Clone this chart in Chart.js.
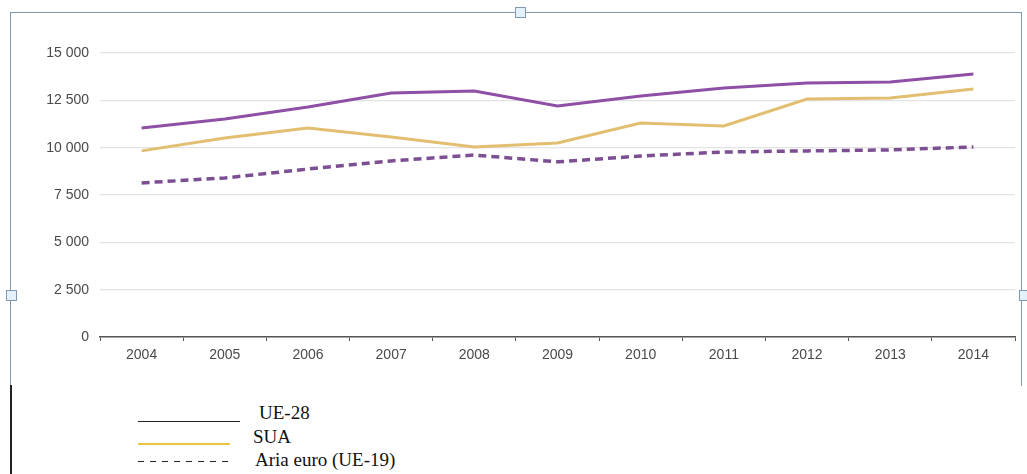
<!DOCTYPE html>
<html>
<head>
<meta charset="utf-8">
<script src="https://cdn.jsdelivr.net/npm/chart.js@4"></script>
<style>
  body { margin: 0; background: #fff; width: 1027px; height: 474px; overflow: hidden; position: relative; }
  #frame { position: absolute; left: 10px; top: 12px; width: 1010px; height: 373px;
           border: 1px solid #7f9ab0; border-bottom: none; }
  #frameLow { position: absolute; left: 10px; top: 385px; width: 2px; height: 89px; background: #222; }
  .handle { position: absolute; width: 9px; height: 9px; border: 1px solid #7f9ab0; background: #e4f1fa; }
  #wrap { position: absolute; left: 0; top: 0; }
  .lg-line { position: absolute; height: 1px; }
  .lg-text { position: absolute; font-family: "Liberation Serif", "Times New Roman", serif;
             font-size: 19px; color: #111; line-height: 20px; }
</style>
</head>
<body>
<div id="frame"></div>
<div id="frameLow"></div>
<div class="handle" style="left:515px;top:7px;"></div>
<div class="handle" style="left:6px;top:290px;"></div>
<div class="handle" style="left:1019px;top:290px;"></div>
<div id="wrap"><canvas id="grafico" width="1027" height="390"></canvas></div>

<!-- leyenda -->
<div class="lg-line" style="left:138px;top:421px;width:102px;background:#222;"></div>
<div class="lg-text" style="left:259px;top:403px;">UE-28</div>
<div class="lg-line" style="left:138px;top:443px;width:92px;height:2px;background:#edc53a;"></div>
<div class="lg-text" style="left:253px;top:427px;">SUA</div>
<div class="lg-line" style="left:138px;top:461px;width:96px;background:repeating-linear-gradient(90deg,#222 0 6px,transparent 6px 12px);"></div>
<div class="lg-text" style="left:255px;top:450px;">Aria euro (UE-19)</div>

<script>
// Datos
const anios = ['2004', '2005', '2006', '2007', '2008', '2009', '2010', '2011', '2012', '2013', '2014'];
const ue28 = [11040, 11520, 12150, 12890, 12990, 12200, 12730, 13150, 13420, 13470, 13890];
const sua = [9830, 10510, 11040, 10560, 10040, 10250, 11300, 11150, 12570, 12620, 13100];
const ariaEuro = [8140, 8400, 8870, 9300, 9610, 9250, 9560, 9770, 9830, 9880, 10040];
const ticksY = [0, 2500, 5000, 7500, 10000, 12500, 15000];

const fuenteEje = { family: '"Liberation Sans Narrow", "Liberation Sans", Arial, sans-serif', size: 14 };

function formatoMiles(v) {
    return String(v).replace(/\B(?=(\d{3})+(?!\d))/g, ' ');
}

new Chart(document.getElementById('grafico'), {
    type: 'line',
    data: {
        labels: anios,
        datasets: [
            { label: 'UE-28', data: ue28, borderColor: '#8e4fa6', borderWidth: 3, pointRadius: 0, tension: 0 },
            { label: 'SUA', data: sua, borderColor: '#e2bf70', borderWidth: 3, pointRadius: 0, tension: 0 },
            { label: 'Aria euro (UE-19)', data: ariaEuro, borderColor: '#7c4f93', borderWidth: 3.5,
              borderDash: [8, 5], pointRadius: 0, tension: 0 }
        ]
    },
    options: {
        responsive: false,
        animation: false,
        layout: { padding: { top: 53, right: 12, left: 0, bottom: 0 } },
        plugins: { legend: { display: false }, tooltip: { enabled: false } },
        scales: {
            x: {
                offset: true,
                grid: { drawOnChartArea: false, drawTicks: true, tickLength: 4, color: '#555', offset: true },
                border: { color: '#555', width: 1.5 },
                ticks: { font: fuenteEje, color: '#4a4a4a', padding: 6, maxRotation: 0, autoSkip: false },
                afterFit: function (scale) { scale.height = 53; }
            },
            y: {
                min: 0,
                max: 15000,
                afterBuildTicks: function (scale) { scale.ticks = ticksY.map(v => ({ value: v })); },
                grid: { color: '#e2e2e2', drawTicks: false, lineWidth: 1.2 },
                border: { display: false },
                ticks: { font: fuenteEje, color: '#4a4a4a', padding: 11, callback: v => formatoMiles(v) },
                afterFit: function (scale) { scale.width = 100; }
            }
        }
    }
});
</script>
</body>
</html>
